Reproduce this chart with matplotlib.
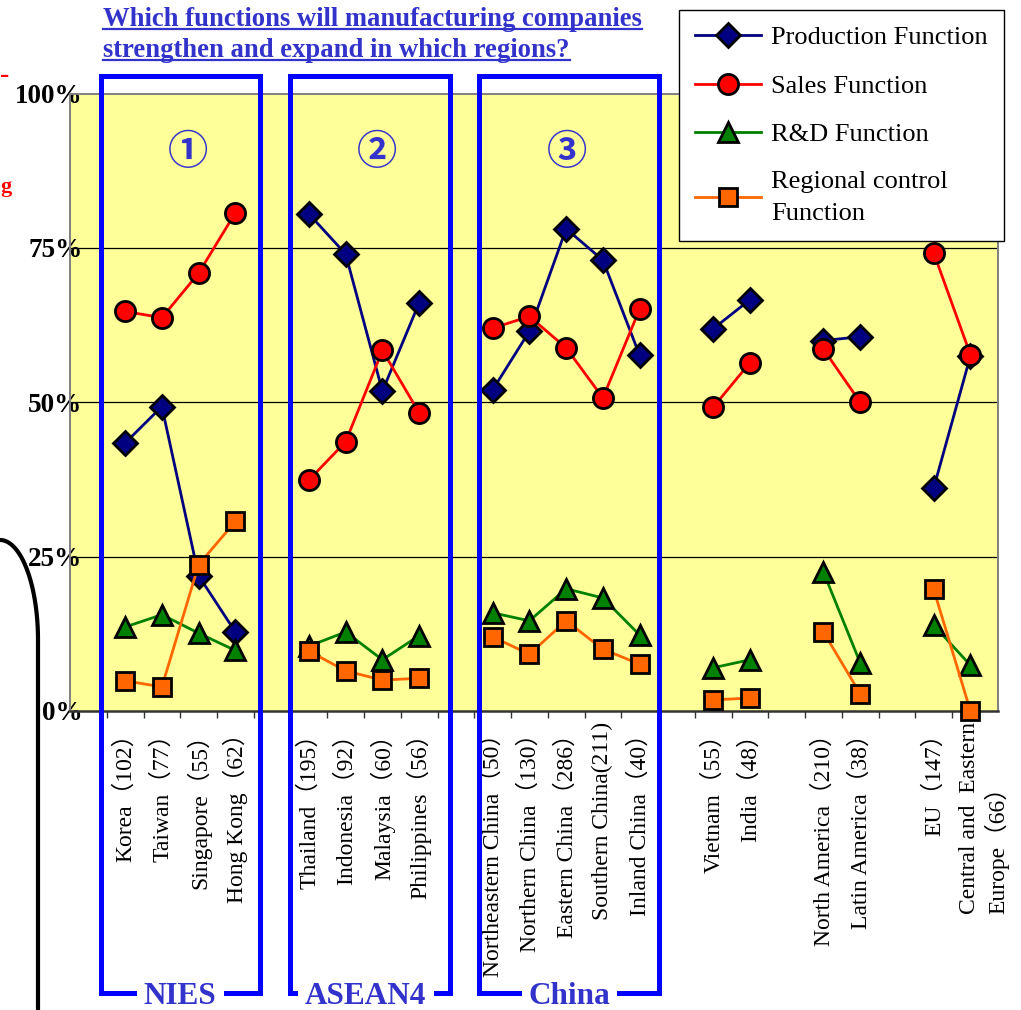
import matplotlib
matplotlib.use("Agg")
import matplotlib.pyplot as plt
from matplotlib.lines import Line2D
from matplotlib.transforms import ScaledTranslation
import numpy as np

serif = ['Liberation Serif', 'Noto Sans CJK JP', 'DejaVu Sans']
plt.rcParams['font.family'] = serif

# regions (number of responding companies), grouped
groups = [
    ['Korea（102）', 'Taiwan（77）', 'Singapore（55）', 'Hong Kong（62）'],
    ['Thailand（195）', 'Indonesia（92）', 'Malaysia（60）', 'Philippines（56）'],
    ['Northeastern China（50）', 'Northern China（130）', 'Eastern China（286）',
     'Southern China(211)', 'Inland China（40）'],
    ['Vietnam（55）', 'India（48）'],
    ['North America（210）', 'Latin America（38）'],
    ['EU（147）', 'Central and  Eastern\nEurope（66）'],
]
group_names = ['NIES', 'ASEAN4', 'China']
circled = ['①', '②', '③']

# share of companies (%) per region
production = [43.4, 49.3, 21.9, 12.8, 80.5, 74.0, 51.8, 66.1,
              52.0, 61.5, 78.1, 73.0, 57.6, 61.9, 66.6, 60.0, 60.6, 36.1, 57.5]
sales = [64.7, 63.7, 70.9, 80.7, 37.4, 43.6, 58.4, 48.3,
         62.0, 63.9, 58.8, 50.7, 65.1, 49.2, 56.4, 58.6, 50.0, 74.2, 57.7]
rnd = [13.6, 15.6, 12.6, 9.8, 10.5, 12.8, 8.3, 12.2,
       15.9, 14.6, 19.8, 18.3, 12.3, 7.0, 8.3, 22.5, 7.8, 13.9, 7.4]
regional = [4.9, 3.9, 23.7, 30.7, 9.7, 6.5, 5.0, 5.3,
            12.0, 9.2, 14.6, 10.0, 7.6, 1.8, 2.1, 12.8, 2.8, 19.7, 0.0]

series = [
    ('Production Function', production, '#000080', 'D', '#000080', 12),
    ('Sales Function', sales, '#FF0000', 'o', '#FF0000', 14.5),
    ('R&D Function', rnd, '#008000', '^', '#008000', 15),
    ('Regional control\nFunction', regional, '#FF6600', 's', '#FF6600', 13.5),
]

W, H = 1021, 1010
fig = plt.figure(figsize=(W / 100, H / 100), dpi=100)
ax = fig.add_axes([70 / W, 1 - 711 / H, (998 - 70) / W, (711 - 93.5) / H])
ax.set_facecolor('#FFFF99')

# category slots, one empty slot before every group
pos = []
slot = 1
bounds = []
for g in groups:
    start = len(pos)
    for _ in g:
        pos.append(slot)
        slot += 1
    bounds.append((start, len(pos)))
    slot += 1
pos = np.array(pos, dtype=float)
labels = [lab for g in groups for lab in g]

handles = []
for name, vals, lc, mk, fc, ms in series:
    vals = np.array(vals)
    for a, b in bounds:
        ax.plot(pos[a:b], vals[a:b], color=lc, lw=2, marker=mk, ms=ms,
                mfc=fc, mec='black', mew=2, clip_on=False, zorder=3)
    handles.append(Line2D([], [], color=lc, lw=2, marker=mk, ms=ms,
                          mfc=fc, mec='black', mew=2))

ax.set_xlim(-0.5, 24.75)
ax.set_ylim(0, 100)
for y in (25, 50, 75):
    ax.axhline(y, color='black', lw=0.9, zorder=1)

for s in ax.spines.values():
    s.set_color('#808080')
    s.set_linewidth(1.4)
ax.spines['bottom'].set_color('#333333')
ax.spines['bottom'].set_linewidth(1.8)

ax.set_xticks(np.arange(0.5, 24, 1.0))
ax.set_xticklabels([])
ax.tick_params(axis='x', which='major', direction='out', length=5, width=1, color='#333333')
ax.set_xticks(pos, minor=True)
ax.set_xticklabels(labels, minor=True, rotation=90, fontsize=17, va='top',
                   ha='center', multialignment='left')
ax.tick_params(axis='x', which='minor', length=0, pad=8)
for t in ax.get_xticklabels(minor=True):
    if t.get_text().startswith('Central'):
        t.set_transform(t.get_transform() + ScaledTranslation(0.14, 0, fig.dpi_scale_trans))

ax.set_yticks([0, 25, 50, 75, 100])
ax.set_yticklabels(['0%', '25%', '50%', '75%', '100%'], fontsize=19.5, fontweight='bold')
ax.tick_params(axis='y', length=0, pad=-9)

# overlay in pixel coordinates for boxes and annotations
ov = fig.add_axes([0, 0, 1, 1], zorder=4)
ov.set_xlim(0, W)
ov.set_ylim(H, 0)
ov.axis('off')
ov.patch.set_alpha(0)

blue = '#0000FF'
text_blue = '#3333CC'
boxes = [(101, 260, 134, 226), (290, 450, 295, 436), (479, 659, 519, 619)]
group_x = [180, 365, 569]
num_x = [188, 377, 567]
for (x0, x1, g0, g1), gname, cnum, gx, nx in zip(boxes, group_names, circled, group_x, num_x):
    ov.plot([g0, x0, x0, x1, x1, g1], [993, 993, 76, 76, 993, 993],
            color=blue, lw=3.6, solid_joinstyle='miter')
    ov.text(gx, 996, gname, color=text_blue, fontsize=22.5, fontweight='bold',
            ha='center', va='center')
    ov.text(nx, 152, cnum, color=text_blue, fontsize=29, fontweight='bold',
            family=['Noto Sans CJK JP', 'DejaVu Sans'], ha='center', va='center')

# title with underline
title_lines = ['Which functions will manufacturing companies',
               'strengthen and expand in which regions?']
title_texts = []
for i, line in enumerate(title_lines):
    title_texts.append(ov.text(103, 26 + 31 * i, line, color=text_blue, fontsize=19.2,
                               fontweight='bold', ha='left', va='baseline'))

# curved bracket line at the left edge
theta = np.linspace(0, np.pi / 2, 60)
arc_x = 38 * np.sin(theta)
arc_y = 640 - 100 * np.cos(theta)
ov.plot(np.r_[arc_x, 38], np.r_[arc_y, 1012], color='black', lw=3)
ov.text(0, 82, '-', color='red', fontsize=20, fontweight='bold', ha='left', va='baseline')
ov.text(0, 192, 'g', color='red', fontsize=16, fontweight='bold', ha='left', va='baseline')

leg = fig.legend(handles, [s[0] for s in series], loc='upper left',
                 bbox_to_anchor=(679 / W, 1 - 10 / H), borderaxespad=0, fontsize=19,
                 handlelength=2.5, handletextpad=0.4, labelspacing=0.95,
                 borderpad=0.6, fancybox=False, framealpha=1, edgecolor='black')
leg.get_frame().set_linewidth(1)
leg.set_zorder(6)
for t in leg.get_texts():
    t.set_linespacing(1.55)

fig.canvas.draw()
r = fig.canvas.get_renderer()
for t in title_texts:
    bb = t.get_window_extent(r)
    yb = H - bb.y0 - 3
    ov.plot([bb.x0, bb.x1], [yb, yb], color=text_blue, lw=1.6)

fig.savefig('out.png', dpi=100)
